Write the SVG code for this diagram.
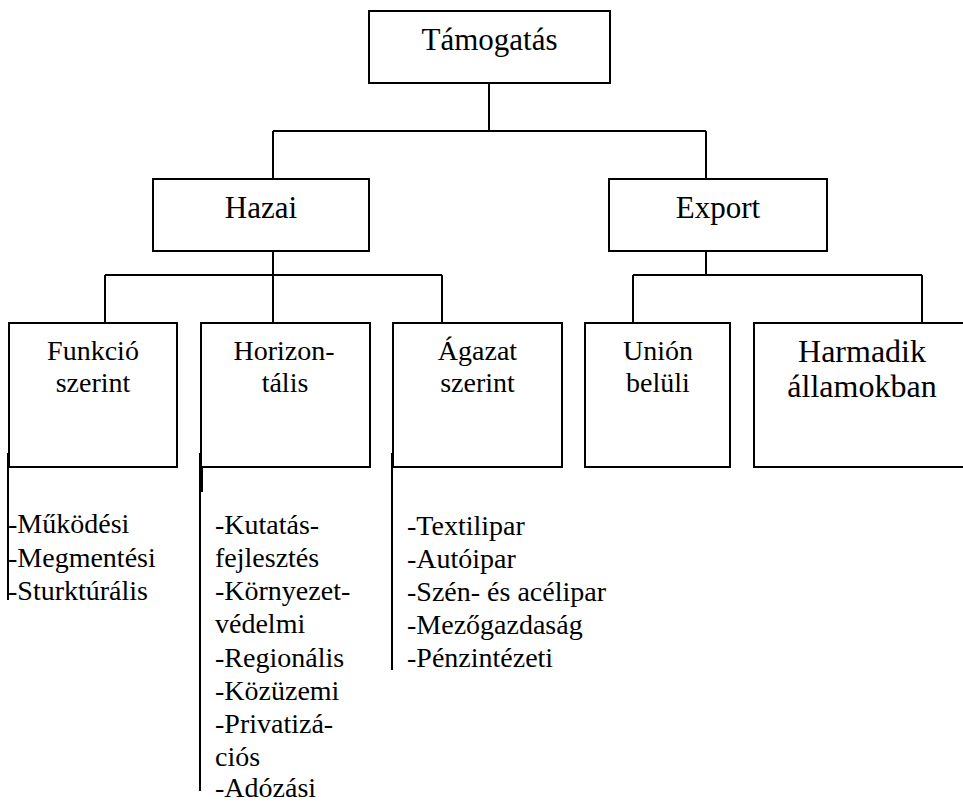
<svg xmlns="http://www.w3.org/2000/svg" width="963" height="802" viewBox="0 0 963 802" font-family="'Liberation Serif', 'Times New Roman', Times, serif">
  <style>
    .box { fill: #ffffff; stroke: #000000; stroke-width: 2; }
    .wire { fill: none; stroke: #000000; stroke-width: 2; }
    .lvl1 { font-size: 31px; text-anchor: middle; fill: #000000; }
    .lvl2 { font-size: 28px; text-anchor: middle; fill: #000000; }
    .big { font-size: 32px; text-anchor: middle; fill: #000000; }
    .item { font-size: 28px; fill: #000000; }
  </style>
  <rect width="963" height="802" fill="#ffffff"/>

  <!-- tree connectors and list rails -->
  <g id="connectors">
    <path class="wire" d="M489 83 V131 M273 131 H706 M273 131 V179 M706 131 V179"/>
    <path class="wire" d="M273 251 V275 M105 275 H442 M105 275 V323 M273 275 V323 M442 275 V323"/>
    <path class="wire" d="M706 251 V275 M633 275 H922 M633 275 V323 M922 275 V323"/>
    <path class="wire" d="M8 453 V600 M200 453 V791 M392 453 V670"/>
    <path class="wire" d="M202 455 V492" stroke-width="1.5"/>
  </g>

  <g id="tamogatas">
    <rect class="box" x="369" y="11" width="241" height="72"/>
    <text class="lvl1" x="489.5" y="50">Támogatás</text>
  </g>

  <g id="hazai">
    <rect class="box" x="153" y="179" width="216" height="72"/>
    <text class="lvl1" x="261" y="218">Hazai</text>
  </g>

  <g id="export">
    <rect class="box" x="609" y="179" width="218" height="72"/>
    <text class="lvl1" x="718" y="218">Export</text>
  </g>

  <g id="funkcio">
    <rect class="box" x="9" y="323" width="168" height="144"/>
    <text class="lvl2" x="93" y="360">Funkció</text>
    <text class="lvl2" x="93" y="392">szerint</text>
  </g>

  <g id="horizontalis">
    <rect class="box" x="201" y="323" width="169" height="144"/>
    <text class="lvl2" x="284" y="360">Horizon-</text>
    <text class="lvl2" x="285" y="392">tális</text>
  </g>

  <g id="agazat">
    <rect class="box" x="393" y="323" width="169" height="144"/>
    <text class="lvl2" x="477.5" y="360">Ágazat</text>
    <text class="lvl2" x="477.5" y="392">szerint</text>
  </g>

  <g id="union">
    <rect class="box" x="585" y="323" width="145" height="144"/>
    <text class="lvl2" x="658" y="360">Unión</text>
    <text class="lvl2" x="658" y="392">belüli</text>
  </g>

  <g id="harmadik">
    <rect class="box" x="754" y="323" width="230" height="144"/>
    <text class="big" x="862" y="362">Harmadik</text>
    <text class="big" x="862" y="397">államokban</text>
  </g>

  <g id="funkcio-list">
    <text class="item" x="8" y="533">-Működési</text>
    <text class="item" x="8" y="567">-Megmentési</text>
    <text class="item" x="8" y="600">-Sturktúrális</text>
  </g>

  <g id="horizontalis-list">
    <text class="item" x="215" y="534">-Kutatás-</text>
    <text class="item" x="215" y="567">fejlesztés</text>
    <text class="item" x="215" y="600">-Környezet-</text>
    <text class="item" x="215" y="633">védelmi</text>
    <text class="item" x="215" y="667">-Regionális</text>
    <text class="item" x="215" y="700">-Közüzemi</text>
    <text class="item" x="215" y="733">-Privatizá-</text>
    <text class="item" x="215" y="766">ciós</text>
    <text class="item" x="215" y="797">-Adózási</text>
  </g>

  <g id="agazat-list">
    <text class="item" x="407" y="535">-Textilipar</text>
    <text class="item" x="407" y="568">-Autóipar</text>
    <text class="item" x="407" y="601">-Szén- és acélipar</text>
    <text class="item" x="407" y="634">-Mezőgazdaság</text>
    <text class="item" x="407" y="667">-Pénzintézeti</text>
  </g>
</svg>
